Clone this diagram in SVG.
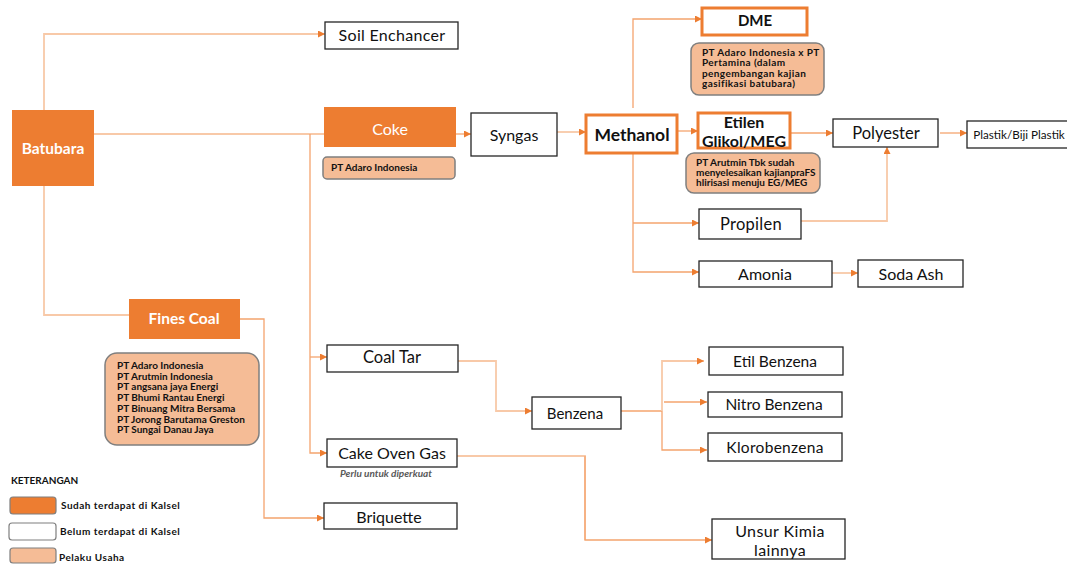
<svg xmlns="http://www.w3.org/2000/svg" width="1067" height="564" viewBox="0 0 1067 564">
<defs>
<style>
.box{fill:#fff;stroke:#262626;stroke-width:1.3}
.obox{fill:#fff;stroke:#ED7D31;stroke-width:3}
.fill{fill:#ED7D31;stroke:none}
.peach{fill:#F5BC96;stroke:#7F7F7F;stroke-width:1.5}
.t{font-family:Lato,"Open Sans",sans-serif;fill:#111;text-anchor:middle;dominant-baseline:central}
.tw{font-family:Lato,"Open Sans",sans-serif;fill:#fff;text-anchor:middle;dominant-baseline:central}
.s{font-family:Lato,"Open Sans",sans-serif;fill:#111;font-weight:bold;font-size:10px;dominant-baseline:central}
.c{fill:none;stroke:#F4A46E;stroke-width:1.3}
.cl{fill:none;stroke:#F8C9A8;stroke-width:1.8}
</style>
<marker id="a" viewBox="0 0 8 8" refX="8" refY="4" markerWidth="7" markerHeight="7" markerUnits="userSpaceOnUse" orient="auto"><path d="M0,0 L8,4 L0,8 Z" fill="#ED7D31"/></marker>
</defs>
<rect width="1067" height="564" fill="#fff"/>
<g id="connectors">
<path class="cl" d="M44,110 V34 H325" marker-end="url(#a)"/>
<path class="cl" d="M94,134 H324"/>
<path class="cl" d="M44,186 V315 H129"/>
<path class="c" d="M310,134 V453 H327" marker-end="url(#a)"/>
<path class="c" d="M310,357 H327" marker-end="url(#a)"/>
<path class="c" d="M456,134 H471" marker-end="url(#a)"/>
<path class="cl" d="M557,132 H586" marker-end="url(#a)"/>
<path class="c" d="M633,108 V19 H702" marker-end="url(#a)"/>
<path class="c" d="M677,131 H698" marker-end="url(#a)"/>
<path class="c" d="M633,153 V272 H699" marker-end="url(#a)"/>
<path class="c" d="M633,223 H699" marker-end="url(#a)"/>
<path class="c" d="M790,133 H833" marker-end="url(#a)"/>
<path class="cl" d="M801,221 H887 V147" marker-end="url(#a)"/>
<path class="c" d="M940,133 H967" marker-end="url(#a)"/>
<path class="cl" d="M832,273 H858" marker-end="url(#a)"/>
<path class="cl" d="M458,361 H496 V411 H532" marker-end="url(#a)"/>
<path class="c" d="M621,411 H662"/>
<path class="cl" d="M662,411 V361 H704" marker-end="url(#a)"/>
<path class="c" d="M664,402 H707" marker-end="url(#a)"/>
<path class="c" d="M662,411 V450 H707" marker-end="url(#a)"/>
<path class="cl" d="M457,456 H585 V540"/>
<path class="c" d="M585,456 V540 H712" marker-end="url(#a)"/>
<path class="c" d="M240,319 H264 V518 H324" marker-end="url(#a)"/>
</g>
<g id="batubara"><rect class="fill" x="12" y="110" width="82" height="76"/><text class="tw" x="53" y="148" font-size="15.5" font-weight="bold">Batubara</text></g>
<g id="soil"><rect class="box" x="325" y="22" width="133" height="27"/><text class="t" x="392" y="34" font-size="16" letter-spacing="0.3">Soil Enchancer</text></g>
<g id="coke"><rect class="fill" x="324" y="107" width="132" height="40"/><text class="tw" x="390" y="128" font-size="16">Coke</text></g>
<g id="coke-pelaku"><rect class="peach" x="323" y="157" width="132" height="22" rx="4"/><text class="s" x="331" y="167">PT Adaro Indonesia</text></g>
<g id="syngas"><rect class="box" x="471" y="113" width="86" height="43"/><text class="t" x="514" y="134" font-size="16">Syngas</text></g>
<g id="methanol"><rect class="obox" x="586" y="115" width="91" height="38"/><text class="t" x="632" y="134" font-size="17.5" font-weight="bold">Methanol</text></g>
<g id="dme"><rect class="obox" x="702" y="8" width="105" height="27"/><text class="t" x="755" y="20" font-size="15" font-weight="bold">DME</text></g>
<g id="dme-pelaku"><rect class="peach" x="691" y="43" width="133" height="52" rx="8"/><text class="s" x="702" y="52" font-size="8.5" letter-spacing="0.4">PT Adaro Indonesia x PT</text><text class="s" x="702" y="62.3" font-size="8.5" letter-spacing="0.4">Pertamina (dalam</text><text class="s" x="702" y="72.6" font-size="8.5" letter-spacing="0.4">pengembangan kajian</text><text class="s" x="702" y="82.9" font-size="8.5" letter-spacing="0.4">gasifikasi batubara)</text></g>
<g id="meg"><rect class="obox" x="698" y="113" width="92" height="35"/><text class="t" x="744" y="121" font-size="16" font-weight="bold">Etilen</text><text class="t" x="744" y="140" font-size="16" font-weight="bold">Glikol/MEG</text></g>
<g id="meg-pelaku"><rect class="peach" x="686" y="153" width="134" height="40" rx="8"/><text class="s" x="696" y="162" font-size="9.7">PT Arutmin Tbk sudah</text><text class="s" x="696" y="172" font-size="9.7">menyelesaikan kajianpraFS</text><text class="s" x="696" y="182" font-size="9.7">hlirisasi menuju EG/MEG</text></g>
<g id="polyester"><rect class="box" x="833" y="119" width="105" height="28"/><text class="t" x="886" y="133" font-size="16.5">Polyester</text></g>
<g id="plastik"><rect class="box" x="967" y="121" width="102" height="27"/><text class="t" x="1019" y="134" font-size="11.7">Plastik/Biji Plastik</text></g>
<g id="propilen"><rect class="box" x="699" y="209" width="102" height="30"/><text class="t" x="751" y="224" font-size="16.5" letter-spacing="0.3">Propilen</text></g>
<g id="amonia"><rect class="box" x="699" y="261" width="133" height="26"/><text class="t" x="765" y="273" font-size="16">Amonia</text></g>
<g id="sodaash"><rect class="box" x="858" y="260" width="105" height="27"/><text class="t" x="911" y="273" font-size="16">Soda Ash</text></g>
<g id="finescoal"><rect class="fill" x="129" y="299" width="111" height="40"/><text class="tw" x="184" y="318" font-size="15.5" font-weight="bold">Fines Coal</text></g>
<g id="finescoal-pelaku"><rect class="peach" x="105" y="353" width="154" height="92" rx="12"/>
<text class="s" x="117" y="365">PT Adaro Indonesia</text>
<text class="s" x="117" y="375.7">PT Arutmin Indonesia</text>
<text class="s" x="117" y="386.4">PT angsana jaya Energi</text>
<text class="s" x="117" y="397.1">PT Bhumi Rantau Energi</text>
<text class="s" x="117" y="407.8">PT Binuang Mitra Bersama</text>
<text class="s" x="117" y="418.5">PT Jorong Barutama Greston</text>
<text class="s" x="117" y="429.2">PT Sungai Danau Jaya</text></g>
<g id="coaltar"><rect class="box" x="327" y="345" width="131" height="27"/><text class="t" x="392" y="357" font-size="16.5">Coal Tar</text></g>
<g id="cog"><rect class="box" x="327" y="439" width="130" height="28"/><text class="t" x="392" y="452" font-size="16">Cake Oven Gas</text><text class="s" x="340" y="473" font-style="italic" style="fill:#595959">Perlu untuk diperkuat</text></g>
<g id="briquette"><rect class="box" x="324" y="503" width="133" height="26"/><text class="t" x="389" y="516" font-size="16">Briquette</text></g>
<g id="benzena"><rect class="box" x="532" y="397" width="89" height="32"/><text class="t" x="575" y="413" font-size="15">Benzena</text></g>
<g id="etilbenzena"><rect class="box" x="709" y="347" width="134" height="28"/><text class="t" x="775" y="361" font-size="15.5">Etil Benzena</text></g>
<g id="nitrobenzena"><rect class="box" x="708" y="392" width="134" height="25"/><text class="t" x="774" y="404" font-size="15.5">Nitro Benzena</text></g>
<g id="klorobenzena"><rect class="box" x="708" y="433" width="134" height="28"/><text class="t" x="775" y="447" font-size="15.5" letter-spacing="0.3">Klorobenzena</text></g>
<g id="unsur"><rect class="box" x="712" y="519" width="133" height="40"/><text class="t" x="780" y="530" font-size="16" letter-spacing="0.4">Unsur Kimia</text><text class="t" x="780" y="549" font-size="16" letter-spacing="0.4">lainnya</text></g>
<g id="legend">
<text class="s" x="11" y="480" font-size="10.5">KETERANGAN</text>
<rect x="10" y="497" width="46" height="17" rx="3" fill="#ED7D31" stroke="#7F7F7F" stroke-width="1.2"/>
<text class="s" x="61" y="505" font-size="11" letter-spacing="0.5">Sudah terdapat di Kalsel</text>
<rect x="9" y="523" width="47" height="17" rx="3" fill="#fff" stroke="#7F7F7F" stroke-width="1.2"/>
<text class="s" x="60" y="531" font-size="11" letter-spacing="0.5">Belum terdapat  di Kalsel</text>
<rect x="10" y="548" width="46" height="15" rx="3" fill="#F5BC96" stroke="#7F7F7F" stroke-width="1.2"/>
<text class="s" x="59" y="557" font-size="11" letter-spacing="0.5">Pelaku Usaha</text>
</g>
</svg>
